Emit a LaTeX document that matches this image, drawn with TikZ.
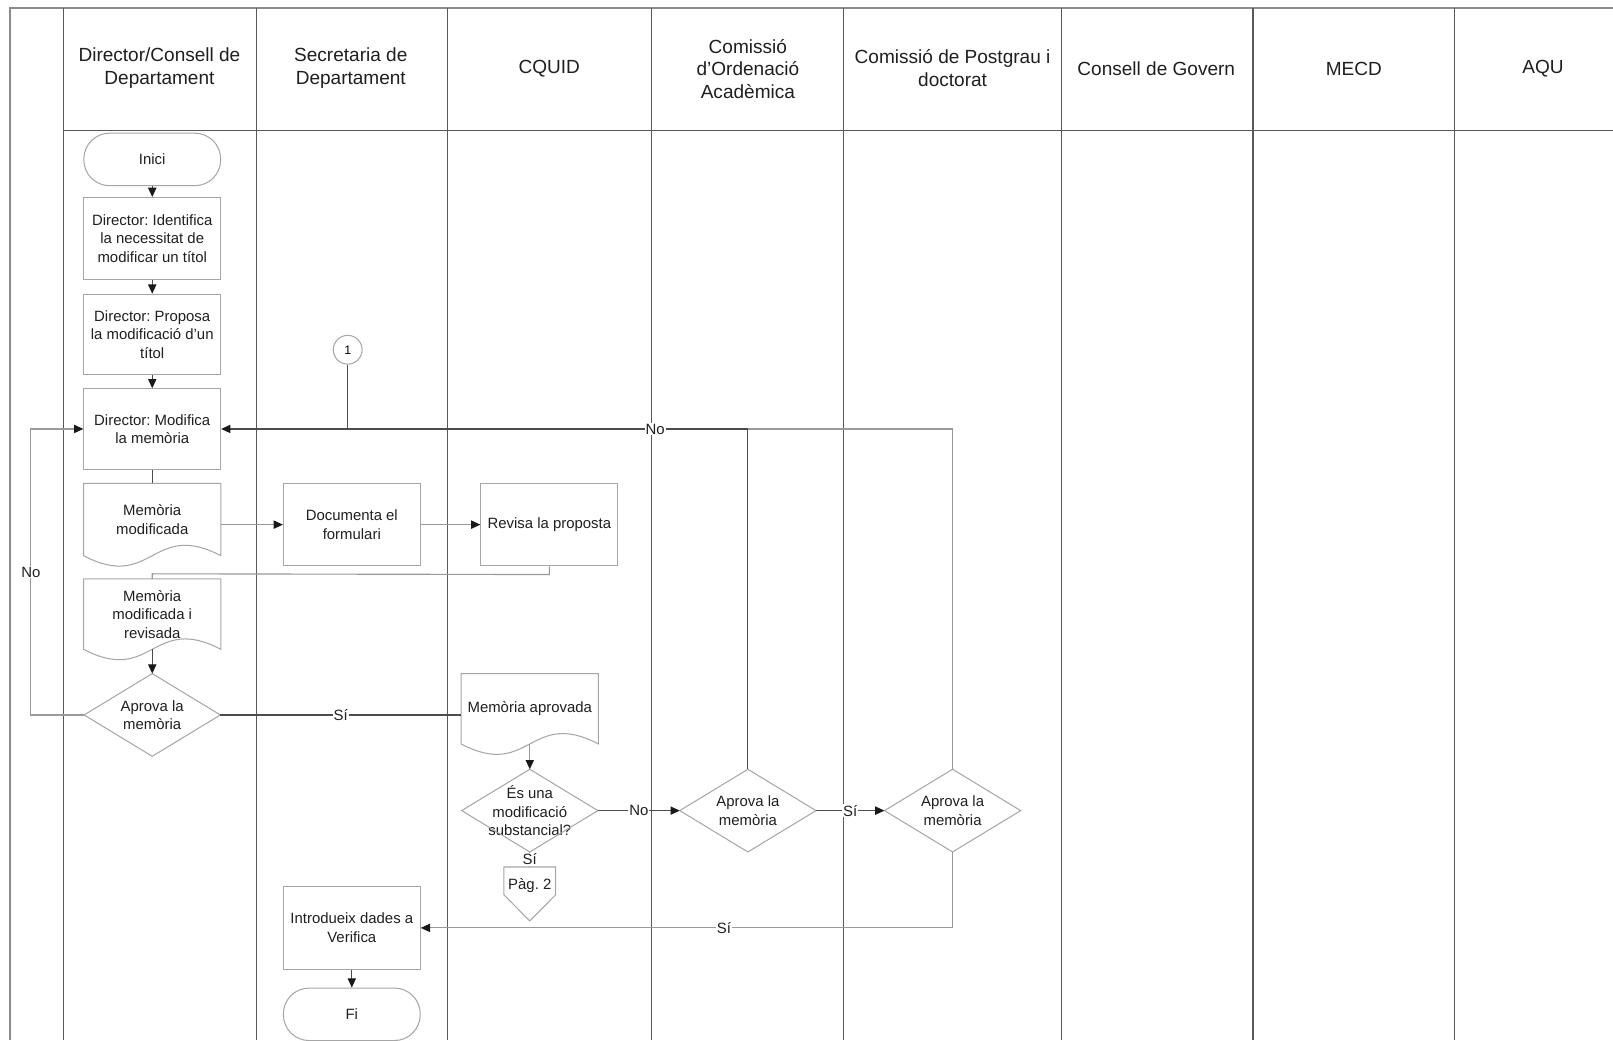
\documentclass[tikz,border=0pt]{standalone}
\usepackage{fontspec}
\setmainfont{Liberation Sans}
\usetikzlibrary{arrows.meta,calc}
\frenchspacing
\newcommand\mydocoutline[1]{\draw[outl] (#1.north west) -- (#1.north east) -- (#1.south east) .. controls ($(#1.south)+(0,-35)$) and ($(#1.south)+(0,35)$) .. (#1.south west) -- cycle;}
\newcommand\mydecoutline[1]{\draw[outl] (#1.north) -- (#1.east) -- (#1.south) -- (#1.west) -- cycle;}
\newcommand\mypagoutline[1]{\draw[outl] (#1.north west) -- (#1.north east) -- ($(#1.north east)+(0,27)$) -- (#1.south) -- ($(#1.north west)+(0,27)$) -- cycle;}
\begin{document}
\frenchspacing
\begin{tikzpicture}[x=1pt,y=-1pt,
  lane/.style={draw=black!65, line width=1.2pt},
  frame/.style={draw=black!45, line width=1.8pt},
  hdr/.style={font=\fontsize{18.5}{22}\selectfont\frenchspacing, align=center, text=black!88},
  txt/.style={font=\fontsize{14.5}{18}\selectfont\frenchspacing, align=center, text=black!88},
  outl/.style={draw=black!35, line width=1pt},
  box/.style={txt, outl, fill=white, minimum width=133pt, minimum height=80pt, inner sep=1pt},
  term/.style={txt, outl, fill=white, rounded corners=25pt, minimum width=133pt, minimum height=51pt},
  docnode/.style={txt, minimum width=133pt, minimum height=70pt, inner sep=1pt},
  decnode/.style={txt, minimum width=132pt, minimum height=80pt, inner sep=0pt},
  pagnode/.style={txt, minimum width=50pt, minimum height=52pt, inner sep=0pt, text height=10pt, text depth=18pt},
  circnode/.style={outl, circle, fill=white, minimum size=28pt, inner sep=0pt, font=\fontsize{12}{14}\selectfont},
  conn/.style={draw=black!70, line width=1.1pt},
  connl/.style={draw=black!40, line width=1.1pt},
  arr/.style={-{Triangle[length=9pt,width=8pt,color=black!90]}},
  lbl/.style={txt, fill=white, inner sep=1pt}
]
\useasboundingbox (0,0) rectangle (1568,1011);
\fill[white] (0,0) rectangle (1568,1011);

% frame and lanes
\draw[frame] (10,1011) -- (10,8) -- (1568,8);
\foreach \x in {62,249,435,633,820,1032,1218,1414}
  \draw[lane] (\x,8) -- (\x,1011);
\draw[lane] (62,127) -- (1568,127);

% headers
\node[hdr] (h1) at (155,66) {Director/Consell de\\Departament};
\node[hdr] (h2) at (341,66) {Secretaria de\\Departament};
\node[hdr] (h3) at (534,67) {CQUID};
\node[hdr] (h4) at (727,67) {Comissió\\d'Ordenació\\Acadèmica};
\node[hdr] (h5) at (926,66) {Comissió de Postgrau i\\doctorat};
\node[hdr] (h6) at (1124,67) {Consell de Govern};
\node[hdr] (h7) at (1316,67) {MECD};
\node[hdr] (h8) at (1500,67) {AQU};

% nodes
\node[term] (inici) at (148,155) {Inici};
\node[box] (ident) at (148,232) {Director: Identifica\\la necessitat de\\modificar un títol};
\node[box, minimum height=78pt] (proposa) at (148,325) {Director: Proposa\\la modificació d'un\\títol};
\node[box, minimum height=78pt] (modif) at (148,417) {Director: Modifica\\la memòria};
\node[docnode] (memmod) at (148,505) {Memòria\\modificada};
\node[box] (documenta) at (342,510) {Documenta el\\formulari};
\node[box] (revisa) at (534,510) {Revisa la proposta};
\node[docnode, minimum height=68pt] (memrev) at (148,597) {Memòria\\modificada i\\revisada};
\node[decnode] (aprova1) at (148,695) {Aprova la\\memòria};
\node[docnode, minimum height=68pt] (memapr) at (515,689) {Memòria aprovada};
\node[decnode] (subst) at (515,788) {És una\\modificació\\substancial?};
\node[decnode] (aprova2) at (727,788) {Aprova la\\memòria};
\node[decnode] (aprova3) at (926,788) {Aprova la\\memòria};
\node[pagnode] (pag) at (515,869) {Pàg. 2};
\node[box] (intro) at (342,902) {Introdueix dades a\\Verifica};
\node[term] (fi) at (342,986) {Fi};

\mydocoutline{memmod}
\mydocoutline{memrev}
\mydocoutline{memapr}
\mydecoutline{aprova1}
\mydecoutline{subst}
\mydecoutline{aprova2}
\mydecoutline{aprova3}
\mypagoutline{pag}

% connectors
\draw[conn,arr] (inici) -- (ident);
\draw[conn,arr] (ident) -- (proposa);
\draw[conn,arr] (proposa) -- (modif);
\draw[conn] (modif) -- (memmod);
\draw[connl,arr] (memmod.east |- documenta.west) -- (documenta.west);
\draw[connl,arr] (documenta) -- (revisa);
\draw[connl] (revisa.south) -- ($(revisa.south)+(0,8)$) -- ($(memrev.north)+(0,-5)$) -- (memrev.north);
\draw[conn,arr] (memrev.south) -- (aprova1.north);
\draw[connl,arr] (aprova1.west) -- (30,695) -- node[lbl]{No} (30,417) -- (modif.west);
\draw[conn] (aprova1.east) -- node[lbl]{Sí} (memapr.west |- aprova1.east);
\draw[connl,arr] (memapr.south) -- (subst.north);
\draw[conn,arr] (subst.east) -- node[lbl]{No} (aprova2.west);
\draw[conn,arr] (aprova2.east) -- node[lbl]{Sí} (aprova3.west);
\draw[connl] (subst.south) -- node[lbl]{Sí} (pag.north);
\draw[conn,arr] (aprova2.north) -- (aprova2.north |- modif.east) -- node[lbl,pos=0.176]{No} (modif.east);
\draw[connl] (aprova3.north) -- (aprova3.north |- modif.east) -- (aprova2.north |- modif.east);
\node[circnode] (c1) at (338,340) {1};
\draw[conn] (c1.south) -- (c1.south |- modif.east);
\draw[connl,arr] (aprova3.south) -- (aprova3.south |- intro.east) -- node[lbl,pos=0.43]{Sí} (intro.east);
\draw[conn,arr] (intro) -- (fi);
\end{tikzpicture}
\end{document}
